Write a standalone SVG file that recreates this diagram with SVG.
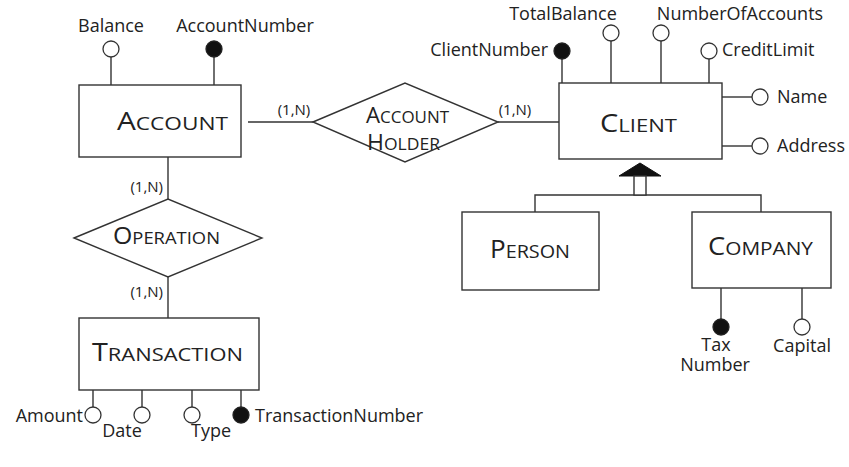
<svg xmlns="http://www.w3.org/2000/svg" width="849" height="467" viewBox="0 0 849 467">
<style>
  .box{fill:#fff;stroke:#333;stroke-width:1.4}
  .ln{fill:none;stroke:#333;stroke-width:1.4}
  .att{fill:#fff;stroke:#333;stroke-width:1.3}
  .key{fill:#111;stroke:#222;stroke-width:1.3}
  text{font-family:"Open Sans","Liberation Sans",sans-serif;fill:#222}
  .lbl{font-size:18px}
  .card{font-size:15px}
  .cap{font-size:25px}
  .sc{font-size:19px}
  .dcap{font-size:21px}
  .dsc{font-size:16px}
</style>
<rect width="849" height="467" fill="#fff"/>

<g id="connectors">
  <line class="ln" x1="248" y1="122" x2="313" y2="122"/>
  <line class="ln" x1="498" y1="122" x2="559" y2="122"/>
  <line class="ln" x1="168" y1="157" x2="168" y2="199"/>
  <line class="ln" x1="168" y1="277" x2="168" y2="318"/>
  <polyline class="ln" points="535,212 535,195 761,195 761,212"/>
  <text class="card" x="294" y="115" text-anchor="middle">(1,N)</text>
  <text class="card" x="515" y="115" text-anchor="middle">(1,N)</text>
  <text class="card" x="163" y="192" text-anchor="end">(1,N)</text>
  <text class="card" x="163" y="297" text-anchor="end">(1,N)</text>
</g>

<g id="generalization">
  <polygon points="640,163 619,176 661,176" fill="#111" stroke="#111" stroke-width="1"/>
  <rect x="634" y="176" width="12" height="19" class="box"/>
</g>

<g id="account">
  <line class="ln" x1="111" y1="57" x2="111" y2="85"/>
  <line class="ln" x1="214" y1="57" x2="214" y2="85"/>
  <circle class="att" cx="111" cy="49" r="8"/>
  <circle class="key" cx="214" cy="49" r="8"/>
  <text class="lbl" x="111" y="32" text-anchor="middle">Balance</text>
  <text class="lbl" x="245" y="32" text-anchor="middle">AccountNumber</text>
  <rect class="box" x="79" y="85" width="162" height="72"/>
  <text x="117" y="130" textLength="111" lengthAdjust="spacingAndGlyphs"><tspan class="cap">A</tspan><tspan class="sc">CCOUNT</tspan></text>
</g>

<g id="account-holder">
  <polygon class="box" points="313,122 405,83 498,122 405,162"/>
  <text x="366" y="123" textLength="83" lengthAdjust="spacingAndGlyphs"><tspan class="dcap">A</tspan><tspan class="dsc">CCOUNT</tspan></text>
  <text x="367" y="150" textLength="73" lengthAdjust="spacingAndGlyphs"><tspan class="dcap">H</tspan><tspan class="dsc">OLDER</tspan></text>
</g>

<g id="operation">
  <polygon class="box" points="74,238 168,199 262,238 168,277"/>
  <text x="113" y="244" textLength="107" lengthAdjust="spacingAndGlyphs"><tspan style="font-size:23px">O</tspan><tspan style="font-size:17px">PERATION</tspan></text>
</g>

<g id="transaction">
  <line class="ln" x1="93" y1="390" x2="93" y2="407"/>
  <line class="ln" x1="142" y1="390" x2="142" y2="407"/>
  <line class="ln" x1="192" y1="390" x2="192" y2="407"/>
  <line class="ln" x1="241" y1="390" x2="241" y2="407"/>
  <circle class="att" cx="93" cy="415" r="8"/>
  <circle class="att" cx="142" cy="415" r="8"/>
  <circle class="att" cx="192" cy="415" r="8"/>
  <circle class="key" cx="241" cy="415" r="8"/>
  <text class="lbl" x="83" y="422" text-anchor="end">Amount</text>
  <text class="lbl" x="122" y="437" text-anchor="middle">Date</text>
  <text class="lbl" x="211" y="437" text-anchor="middle">Type</text>
  <text class="lbl" x="255" y="422">TransactionNumber</text>
  <rect class="box" x="79" y="318" width="180" height="72"/>
  <text x="92" y="361" textLength="151" lengthAdjust="spacingAndGlyphs"><tspan class="cap">T</tspan><tspan class="sc">RANSACTION</tspan></text>
</g>

<g id="client">
  <line class="ln" x1="562" y1="59" x2="562" y2="83"/>
  <line class="ln" x1="611" y1="41" x2="611" y2="83"/>
  <line class="ln" x1="661" y1="41" x2="661" y2="83"/>
  <line class="ln" x1="709" y1="59" x2="709" y2="83"/>
  <line class="ln" x1="722" y1="97" x2="752" y2="97"/>
  <line class="ln" x1="722" y1="146" x2="752" y2="146"/>
  <circle class="key" cx="562" cy="51" r="8"/>
  <circle class="att" cx="611" cy="33" r="8"/>
  <circle class="att" cx="661" cy="33" r="8"/>
  <circle class="att" cx="709" cy="51" r="8"/>
  <circle class="att" cx="760" cy="97" r="8"/>
  <circle class="att" cx="760" cy="146" r="8"/>
  <text class="lbl" x="548" y="56" text-anchor="end">ClientNumber</text>
  <text class="lbl" x="563" y="20" text-anchor="middle">TotalBalance</text>
  <text class="lbl" x="740" y="20" text-anchor="middle">NumberOfAccounts</text>
  <text class="lbl" x="722" y="56">CreditLimit</text>
  <text class="lbl" x="777" y="103">Name</text>
  <text class="lbl" x="777" y="152">Address</text>
  <rect class="box" x="559" y="83" width="163" height="76"/>
  <text x="600" y="132" textLength="77" lengthAdjust="spacingAndGlyphs"><tspan class="cap">C</tspan><tspan class="sc">LIENT</tspan></text>
</g>

<g id="person">
  <rect class="box" x="462" y="212" width="137" height="78"/>
  <text x="490" y="258" textLength="80" lengthAdjust="spacingAndGlyphs"><tspan class="cap">P</tspan><tspan class="sc">ERSON</tspan></text>
</g>

<g id="company">
  <line class="ln" x1="721" y1="288" x2="721" y2="319"/>
  <line class="ln" x1="802" y1="288" x2="802" y2="319"/>
  <circle class="key" cx="721" cy="327" r="8"/>
  <circle class="att" cx="802" cy="327" r="8"/>
  <text class="lbl" text-anchor="middle"><tspan x="716" y="351">Tax</tspan><tspan x="715" y="371">Number</tspan></text>
  <text class="lbl" x="802" y="352" text-anchor="middle">Capital</text>
  <rect class="box" x="692" y="212" width="139" height="76"/>
  <text x="708" y="255" textLength="105" lengthAdjust="spacingAndGlyphs"><tspan class="cap">C</tspan><tspan class="sc">OMPANY</tspan></text>
</g>
</svg>
